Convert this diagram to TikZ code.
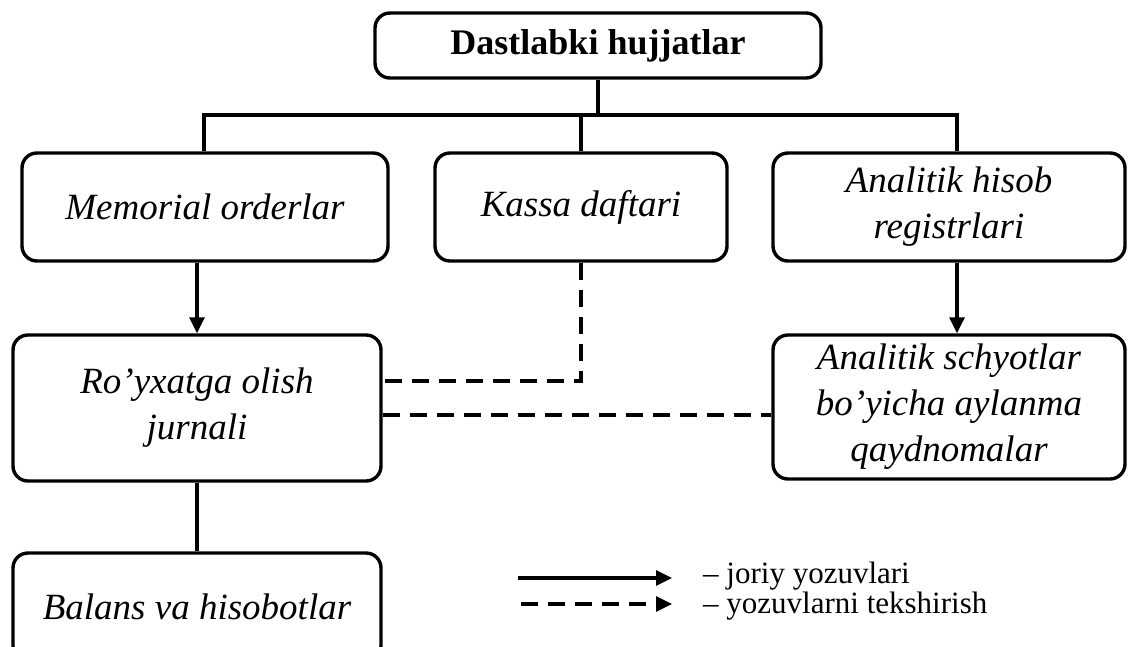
\documentclass[tikz,border=0pt]{standalone}
\usepackage{fontspec}
\setmainfont{Liberation Serif}
\usepackage{tikz}
\usetikzlibrary{calc, arrows.meta}

\tikzset{
	box/.style = {draw = black, line width = 3.4pt, rounded corners = 15pt, align = center, inner sep = 0pt,
		font = \itshape\fontsize{37}{46}\selectfont},
	conn/.style = {line width = 3.2pt},
	flow/.style = {conn, -{Triangle[length = 16pt, width = 15pt]}},
	check/.style = {conn, dash pattern = on 17pt off 10pt},
	legtext/.style = {anchor = west, inner sep = 0pt, font = \fontsize{31}{36}\selectfont}
}

\begin{document}
\begin{tikzpicture}[x = 1pt, y = -1pt]
			\useasboundingbox (0,0) rectangle (1129,646);
			
			\node (top) [box, font = \bfseries\fontsize{36}{44}\selectfont, minimum width = 446pt, minimum height = 65pt] at (598,45.5){Dastlabki hujjatlar};
			\node (mem) [box, minimum width = 366pt, minimum height = 108pt] at (205,207){Memorial orderlar};
			\node (kassa) [box, minimum width = 292pt, minimum height = 108pt] at (581,207){Kassa daftari};
			\node (anreg) [box, minimum width = 352pt, minimum height = 108pt] at (949,207){Analitik hisob\\registrlari};
			\node (royx) [box, minimum width = 368pt, minimum height = 146pt] at (197,408){Ro’yxatga olish\\jurnali};
			\node (ansch) [box, minimum width = 352pt, minimum height = 144pt] at (949,407){Analitik schyotlar\\bo’yicha aylanma\\qaydnomalar};
			\node (balans) [box, minimum width = 368pt, minimum height = 108pt] at (197,607){Balans va hisobotlar};
			
			\coordinate (busL) at (204,115);
			\coordinate (busR) at (957,115);
			
			\draw[conn] (top.south) -- (top.south |- busL);
			\draw[conn, line cap = rect] (busL) -- (busR);
			\draw[conn] (busL) -- (busL |- mem.north);
			\draw[conn] (kassa.north) -- (kassa.north |- busL);
			\draw[conn] (busR) -- (busR |- anreg.north);
			
			\draw[flow] (royx.north |- mem.south) -- (royx.north);
			\draw[flow] ([xshift = 8pt]anreg.south) -- ([xshift = 8pt]ansch.north);
			\draw[conn] (royx.south) -- (balans.north);
			
			\draw[check] (kassa.south) |- ([yshift = 27pt]royx.east);
			\draw[check] ([yshift = -7pt]royx.east) -- ([yshift = -7pt]royx.east -| ansch.west);
			
			\coordinate (soldA) at (518,578);
			\coordinate (soldB) at (672,578);
			\coordinate (dashA) at (521,604);
			\coordinate (dashB) at (672,604);
			\draw[flow] (soldA) -- (soldB);
			\draw[check, -{Triangle[length = 16pt, width = 15pt]}] (dashA) -- (dashB);
			\node (legsol) [legtext] at (703,576){– joriy yozuvlari};
			\node (legdash) [legtext] at (703,606){– yozuvlarni tekshirish};
			
		\end{tikzpicture}
\end{document}
